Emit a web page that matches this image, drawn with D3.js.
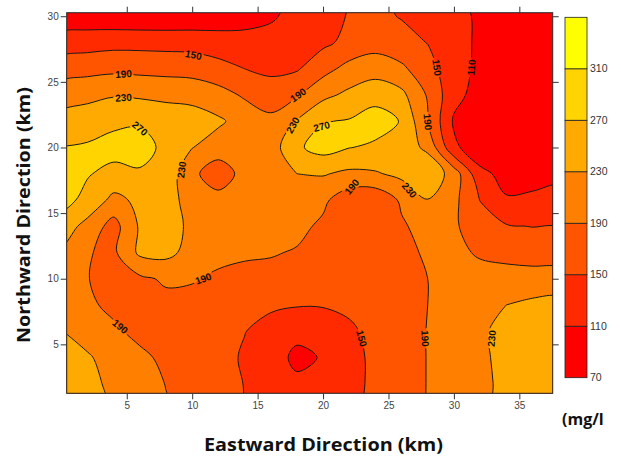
<!DOCTYPE html>
<html>
<head>
<meta charset="utf-8">
<script src="https://cdn.jsdelivr.net/npm/d3@7"></script>
<style>
    body { margin: 0; background: #fff; }
    svg { display: block; }
</style>
</head>
<body>
<svg id="chart" width="621" height="466"></svg>
<script>
// grid positions (km), 2 km spacing, rows listed north -> south
var gridX = [0, 2, 4, 6, 8, 10, 12, 14, 16, 18, 20, 22, 24, 26, 28, 30, 32, 34, 36, 38];
var gridY = [32, 30, 28, 26, 24, 22, 20, 18, 16, 14, 12, 10, 8, 6, 4, 2, 0];

// concentration (mg/l) at each grid node
var conc = [
    [ 80,  80,  78,  76,  76,  78,  84,  90, 100, 115, 132, 150, 155, 142, 128, 115, 100,  90,  86,  85],
    [ 85,  85,  82,  80,  80,  82,  88,  95, 105, 122, 138, 152, 158, 148, 135, 120, 105,  95,  90,  88],
    [128, 133, 137, 137, 136, 135, 128, 124, 124, 138, 142, 160, 175, 162, 149, 125, 103,  92,  88,  86],
    [172, 177, 181, 179, 177, 174, 164, 150, 142, 146, 176, 203, 211, 198, 163, 128, 100,  90,  86,  85],
    [212, 220, 227, 224, 220, 218, 205, 185, 169, 186, 220, 239, 258, 240, 186, 122,  95,  86,  82,  80],
    [244, 250, 264, 266, 255, 248, 236, 215, 200, 233, 268, 273, 285, 268, 190, 105,  85,  78,  75,  74],
    [271, 275, 280, 283, 262, 231, 212, 212, 210, 264, 285, 271, 264, 252, 221, 118,  85,  75,  72,  72],
    [276, 272, 262, 266, 255, 200, 165, 205, 215, 230, 233, 222, 226, 240, 262, 212, 120,  98, 102, 104],
    [280, 262, 218, 240, 245, 215, 205, 210, 210, 212, 198, 165, 160, 196, 229, 200, 149, 113, 114, 118],
    [255, 215, 175, 235, 250, 220, 205, 205, 205, 200, 183, 172, 172, 185, 205, 195, 170, 153, 149, 149],
    [222, 192, 183, 238, 242, 215, 200, 195, 193, 187, 178, 170, 170, 180, 195, 200, 185, 180, 178, 178],
    [205, 191, 178, 183, 195, 193, 184, 180, 178, 175, 170, 168, 170, 178, 190, 205, 205, 203, 201, 200],
    [205, 196, 182, 175, 180, 178, 172, 165, 155, 152, 152, 158, 168, 178, 190, 210, 222, 230, 240, 246],
    [231, 215, 196, 180, 172, 167, 160, 151, 138, 126, 132, 143, 162, 177, 191, 212, 225, 240, 250, 254],
    [245, 234, 215, 198, 182, 172, 162, 146, 138,  96, 114, 138, 158, 176, 191, 212, 222, 242, 252, 256],
    [250, 240, 222, 206, 189, 178, 165, 149, 134, 122, 124, 138, 158, 176, 191, 210, 222, 238, 250, 255],
    [254, 244, 226, 210, 193, 180, 167, 150, 136, 124, 128, 140, 158, 176, 191, 210, 222, 238, 250, 256]
];

var levels = [70, 110, 150, 190, 230, 270, 310, 350];
var levelColors = ["#ff0000", "#ff2a00", "#ff5500", "#ff8000", "#ffaa00", "#ffd400", "#ffff00"];
var xTicks = [5, 10, 15, 20, 25, 30, 35];
var yTicks = [5, 10, 15, 20, 25, 30];
var cbTicks = [70, 110, 150, 190, 230, 270, 310];

// contour labels: value, position (km) and text angle
var contourLabels = [
    {v: 150, x: 10.1, y: 27.05, a: 12},
    {v: 190, x: 4.75, y: 25.6, a: -4},
    {v: 230, x: 4.75, y: 23.8, a: -4},
    {v: 270, x: 6.0, y: 21.45, a: 40},
    {v: 230, x: 9.2, y: 18.3, a: -82},
    {v: 190, x: 18.1, y: 24.0, a: -35},
    {v: 230, x: 17.7, y: 21.7, a: -60},
    {v: 270, x: 19.9, y: 21.6, a: -15},
    {v: 150, x: 28.7, y: 26.1, a: 82},
    {v: 110, x: 31.35, y: 26.1, a: -85},
    {v: 190, x: 28.0, y: 21.95, a: 85},
    {v: 230, x: 26.6, y: 16.75, a: 50},
    {v: 190, x: 22.2, y: 17.0, a: -50},
    {v: 190, x: 10.85, y: 10.0, a: -20},
    {v: 190, x: 4.5, y: 6.35, a: 40},
    {v: 150, x: 22.95, y: 5.45, a: 75},
    {v: 190, x: 27.8, y: 5.45, a: 88},
    {v: 230, x: 32.9, y: 5.45, a: -85}
];

var svg = d3.select("#chart");

// plot area
var plotL = 66.7, plotR = 552.7, plotT = 12.7, plotB = 393.3;

var x = d3.scaleLinear().domain([0.41, 37.55]).range([plotL, plotR]);
var y = d3.scaleLinear().domain([1.27, 30.27]).range([plotB, plotT]);

// grid index -> km (d3.contours puts node i at i + 0.5)
var n = gridX.length, m = gridY.length;
var gx = d3.scaleLinear().domain([0.5, n - 0.5]).range([gridX[0], gridX[n - 1]]);
var gy = d3.scaleLinear().domain([0.5, m - 0.5]).range([gridY[0], gridY[m - 1]]);

var values = [];
conc.forEach(function(row) { values = values.concat(row); });

var contours = d3.contours()
    .size([n, m])
    .thresholds(levels.slice(1, 7))(values);

var ringLine = d3.line()
    .x(function(p) { return x(gx(p[0])); })
    .y(function(p) { return y(gy(p[1])); })
    .curve(d3.curveCatmullRomClosed.alpha(0.5));

function contourPath(c) {
    var s = "";
    c.coordinates.forEach(function(poly) {
        poly.forEach(function(ring) {
            s += ringLine(ring.slice(0, ring.length - 1));
        });
    });
    return s;
}

var defs = svg.append("defs");
defs.append("clipPath").attr("id", "plotclip")
    .append("rect")
    .attr("x", plotL).attr("y", plotT)
    .attr("width", plotR - plotL).attr("height", plotB - plotT);

// gaps in the contour lines where the labels sit
var mask = defs.append("mask").attr("id", "lblmask")
    .attr("maskUnits", "userSpaceOnUse")
    .attr("x", 0).attr("y", 0).attr("width", 621).attr("height", 466);
mask.append("rect").attr("width", 621).attr("height", 466).attr("fill", "#fff");
mask.selectAll(".gap")
    .data(contourLabels)
    .enter().append("rect")
    .attr("x", -10).attr("y", -5).attr("width", 20).attr("height", 10)
    .attr("fill", "#000")
    .attr("transform", function(d) {
        return "translate(" + x(d.x) + "," + y(d.y) + ") rotate(" + d.a + ")";
    });

var plot = svg.append("g").attr("clip-path", "url(#plotclip)");

plot.append("rect")
    .attr("x", plotL).attr("y", plotT)
    .attr("width", plotR - plotL).attr("height", plotB - plotT)
    .attr("fill", levelColors[0]);

plot.selectAll(".band")
    .data(contours)
    .enter().append("path")
    .attr("class", "band")
    .attr("d", contourPath)
    .attr("fill-rule", "evenodd")
    .attr("fill", function(d, i) { return levelColors[i + 1]; });

plot.append("g")
    .attr("mask", "url(#lblmask)")
    .selectAll(".iso")
    .data(contours)
    .enter().append("path")
    .attr("class", "iso")
    .attr("d", contourPath)
    .attr("fill", "none")
    .attr("stroke", "#1a1a1a")
    .attr("stroke-width", 1);

plot.selectAll(".clabel")
    .data(contourLabels)
    .enter().append("text")
    .attr("class", "clabel")
    .attr("transform", function(d) {
        return "translate(" + x(d.x) + "," + y(d.y) + ") rotate(" + d.a + ")";
    })
    .attr("text-anchor", "middle")
    .attr("dy", "0.35em")
    .style("font", "bold 10px 'Liberation Sans', Arial, sans-serif")
    .attr("fill", "#111")
    .text(function(d) { return d.v; });

// frame
svg.append("rect")
    .attr("x", plotL).attr("y", plotT)
    .attr("width", plotR - plotL).attr("height", plotB - plotT)
    .attr("fill", "none").attr("stroke", "#222").attr("stroke-width", 1);

// axes
function styleAxis(g) {
    g.select(".domain").remove();
    g.selectAll(".tick line").attr("stroke", "#333");
    g.selectAll(".tick text")
        .attr("fill", "#444")
        .style("font", "10px 'Liberation Sans', Arial, sans-serif");
}

svg.append("g")
    .attr("transform", "translate(0," + plotB + ")")
    .call(d3.axisBottom(x).tickValues(xTicks).tickSize(6).tickPadding(3))
    .call(styleAxis);

svg.append("g")
    .attr("transform", "translate(0," + plotT + ")")
    .call(d3.axisTop(x).tickValues(xTicks).tickSize(6).tickFormat(""))
    .call(styleAxis);

svg.append("g")
    .attr("transform", "translate(" + plotL + ",0)")
    .call(d3.axisLeft(y).tickValues(yTicks).tickSize(6).tickPadding(2))
    .call(styleAxis);

svg.append("g")
    .attr("transform", "translate(" + plotR + ",0)")
    .call(d3.axisRight(y).tickValues(yTicks).tickSize(6).tickFormat(""))
    .call(styleAxis);

// axis titles
svg.append("text")
    .attr("x", 323.5).attr("y", 451)
    .attr("text-anchor", "middle")
    .attr("textLength", 239).attr("lengthAdjust", "spacingAndGlyphs")
    .style("font", "bold 18px 'Open Sans', 'DejaVu Sans', sans-serif")
    .attr("fill", "#111")
    .text("Eastward Direction (km)");

svg.append("text")
    .attr("transform", "translate(30,215) rotate(-90)")
    .attr("text-anchor", "middle")
    .attr("textLength", 256).attr("lengthAdjust", "spacingAndGlyphs")
    .style("font", "bold 18px 'Open Sans', 'DejaVu Sans', sans-serif")
    .attr("fill", "#111")
    .text("Northward Direction (km)");

// colour bar
var cb = d3.scaleLinear().domain([70, 350]).range([377.7, 17.3]);
var cbX = 565, cbW = 22;

svg.selectAll(".cbband")
    .data(levelColors)
    .enter().append("rect")
    .attr("class", "cbband")
    .attr("x", cbX)
    .attr("y", function(d, i) { return cb(levels[i + 1]); })
    .attr("width", cbW)
    .attr("height", function(d, i) { return cb(levels[i]) - cb(levels[i + 1]); })
    .attr("fill", function(d) { return d; })
    .attr("stroke", "#222").attr("stroke-width", 0.8);

svg.selectAll(".cblabel")
    .data(cbTicks)
    .enter().append("text")
    .attr("class", "cblabel")
    .attr("x", cbX + cbW + 3)
    .attr("y", function(d) { return cb(d); })
    .attr("dy", "0.35em")
    .style("font", "10.5px 'Liberation Sans', Arial, sans-serif")
    .attr("fill", "#333")
    .text(function(d) { return d; });

svg.append("text")
    .attr("x", 562).attr("y", 425)
    .style("font", "bold 16px 'Open Sans', 'DejaVu Sans', sans-serif")
    .attr("fill", "#111")
    .text("(mg/l");
</script>
</body>
</html>
